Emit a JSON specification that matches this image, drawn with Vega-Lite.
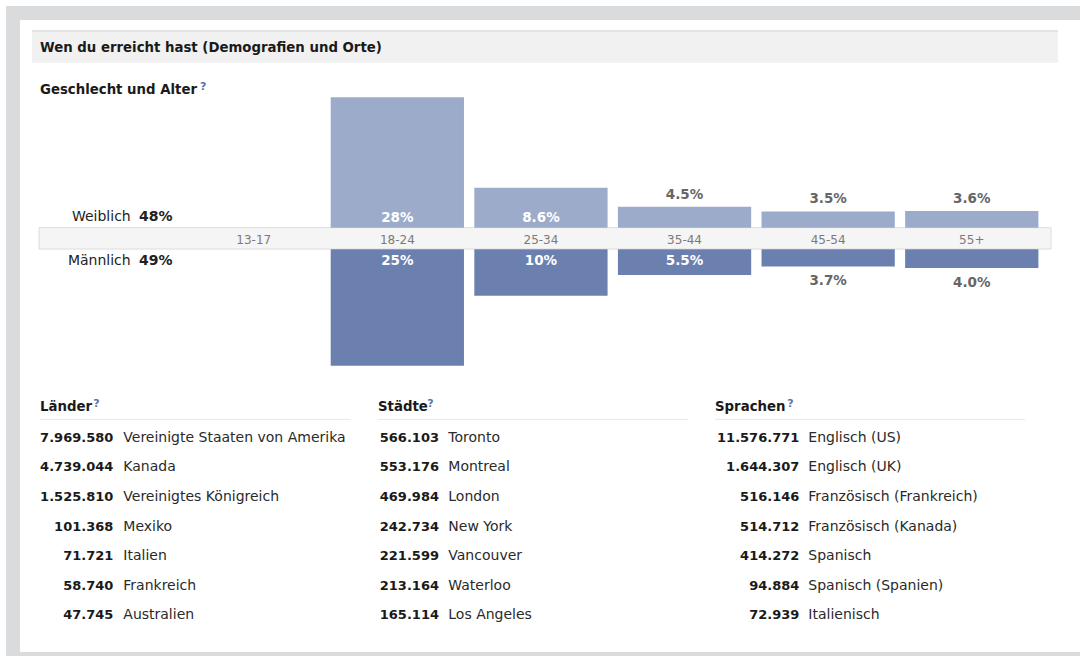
{
  "$schema": "https://vega.github.io/schema/vega-lite/v6.json",
  "width": 1067,
  "height": 643,
  "padding": {"left": 13, "top": 13, "right": 0, "bottom": 0},
  "autosize": {"type": "none"},
  "background": "#ffffff",
  "config": {
    "view": {"fill": "#ffffff", "stroke": null},
    "font": "DejaVu Sans",
    "text": {"font": "DejaVu Sans", "fontSize": 13, "color": "#222222"},
    "locale": {"number": {"decimal": ".", "thousands": ".", "grouping": [3], "currency": ["", ""]}}
  },
  "datasets": {
    "age": [
      {"age": "13-17"},
      {"age": "18-24", "female": 0.28, "male": 0.25},
      {"age": "25-34", "female": 0.086, "male": 0.10},
      {"age": "35-44", "female": 0.045, "male": 0.055},
      {"age": "45-54", "female": 0.035, "male": 0.037},
      {"age": "55+", "female": 0.036, "male": 0.040}
    ],
    "gender": [
      {"gender": "Weiblich", "share": 0.48},
      {"gender": "Männlich", "share": 0.49}
    ],
    "places": [
      {"list": "Länder", "rank": 1, "count": 7969580, "name": "Vereinigte Staaten von Amerika"},
      {"list": "Länder", "rank": 2, "count": 4739044, "name": "Kanada"},
      {"list": "Länder", "rank": 3, "count": 1525810, "name": "Vereinigtes Königreich"},
      {"list": "Länder", "rank": 4, "count": 101368, "name": "Mexiko"},
      {"list": "Länder", "rank": 5, "count": 71721, "name": "Italien"},
      {"list": "Länder", "rank": 6, "count": 58740, "name": "Frankreich"},
      {"list": "Länder", "rank": 7, "count": 47745, "name": "Australien"},
      {"list": "Städte", "rank": 1, "count": 566103, "name": "Toronto"},
      {"list": "Städte", "rank": 2, "count": 553176, "name": "Montreal"},
      {"list": "Städte", "rank": 3, "count": 469984, "name": "London"},
      {"list": "Städte", "rank": 4, "count": 242734, "name": "New York"},
      {"list": "Städte", "rank": 5, "count": 221599, "name": "Vancouver"},
      {"list": "Städte", "rank": 6, "count": 213164, "name": "Waterloo"},
      {"list": "Städte", "rank": 7, "count": 165114, "name": "Los Angeles"},
      {"list": "Sprachen", "rank": 1, "count": 11576771, "name": "Englisch (US)"},
      {"list": "Sprachen", "rank": 2, "count": 1644307, "name": "Englisch (UK)"},
      {"list": "Sprachen", "rank": 3, "count": 516146, "name": "Französisch (Frankreich)"},
      {"list": "Sprachen", "rank": 4, "count": 514712, "name": "Französisch (Kanada)"},
      {"list": "Sprachen", "rank": 5, "count": 414272, "name": "Spanisch"},
      {"list": "Sprachen", "rank": 6, "count": 94884, "name": "Spanisch (Spanien)"},
      {"list": "Sprachen", "rank": 7, "count": 72939, "name": "Italienisch"}
    ]
  },
  "resolve": {"scale": {"x": "independent", "y": "independent"}},
  "layer": [
    {
      "data": {"values": [{"frame": "border"}]},
      "layer": [
        {
          "mark": {"type": "rect", "color": "#dadbdd"},
          "encoding": {
            "x": {"datum": 0, "type": "quantitative", "scale": {"domain": [0, 1], "range": [-7, 1067], "nice": false, "zero": false}, "axis": null},
            "x2": {"datum": 1},
            "y": {"datum": 0, "type": "quantitative", "scale": {"domain": [0, 1], "range": [-7, 643], "nice": false, "zero": false}, "axis": null},
            "y2": {"datum": 0.0215}
          }
        },
        {
          "mark": {"type": "rect", "color": "#dadbdd"},
          "encoding": {
            "x": {"datum": 0, "type": "quantitative", "axis": null},
            "x2": {"datum": 0.013},
            "y": {"datum": 0, "type": "quantitative", "axis": null},
            "y2": {"datum": 1}
          }
        },
        {
          "mark": {"type": "rect", "color": "#dadbdd"},
          "encoding": {
            "x": {"datum": 0, "type": "quantitative", "axis": null},
            "x2": {"datum": 1},
            "y": {"datum": 0.9938, "type": "quantitative", "axis": null},
            "y2": {"datum": 1}
          }
        }
      ]
    },
    {
      "data": {"values": [{"title": "Wen du erreicht hast (Demografien und Orte)", "sub": "Geschlecht und Alter"}]},
      "layer": [
        {
          "mark": {"type": "rect", "color": "#f1f1f1"},
          "encoding": {
            "x": {"datum": 0, "type": "quantitative", "scale": {"domain": [0, 1], "range": [19, 1045], "nice": false, "zero": false}, "axis": null},
            "x2": {"datum": 1},
            "y": {"datum": 0, "type": "quantitative", "scale": {"domain": [0, 1], "range": [18, 49.7], "nice": false, "zero": false}, "axis": null},
            "y2": {"datum": 1}
          }
        },
        {
          "mark": {"type": "rule", "color": "#e4e4e4", "strokeWidth": 2},
          "encoding": {
            "x": {"datum": 0, "type": "quantitative", "axis": null},
            "x2": {"datum": 1},
            "y": {"datum": 0, "type": "quantitative", "axis": null}
          }
        },
        {
          "mark": {"type": "text", "align": "left", "baseline": "middle", "dx": 8, "dy": 1.5, "fontSize": 13.3, "fontWeight": "bold", "color": "#1a1a1a"},
          "encoding": {
            "x": {"datum": 0, "type": "quantitative", "axis": null},
            "y": {"datum": 0.5, "type": "quantitative", "axis": null},
            "text": {"field": "title"}
          }
        },
        {
          "mark": {"type": "text", "align": "left", "baseline": "alphabetic", "dx": 8, "fontSize": 13.3, "fontWeight": "bold", "color": "#1a1a1a"},
          "encoding": {
            "x": {"datum": 0, "type": "quantitative", "axis": null},
            "y": {"datum": 2, "type": "quantitative", "axis": null},
            "text": {"field": "sub"}
          }
        },
        {
          "mark": {"type": "text", "align": "left", "baseline": "alphabetic", "dx": 168, "dy": -4.4, "fontSize": 11, "fontWeight": "bold", "color": "#5b74a8"},
          "encoding": {
            "x": {"datum": 0, "type": "quantitative", "axis": null},
            "y": {"datum": 2, "type": "quantitative", "axis": null},
            "text": {"value": "?"}
          }
        }
      ]
    },
    {
      "data": {"values": [{"band": "age"}]},
      "mark": {"type": "rect", "color": "#f5f5f5", "stroke": "#dcdcdc", "strokeWidth": 1},
      "encoding": {
        "x": {"datum": 0, "type": "quantitative", "scale": {"domain": [0, 1], "range": [26, 1038], "nice": false, "zero": false}, "axis": null},
        "x2": {"datum": 1},
        "y": {"datum": 0, "type": "quantitative", "scale": {"domain": [0, 1], "range": [214.7, 236], "nice": false, "zero": false}, "axis": null},
        "y2": {"datum": 1}
      }
    },
    {
      "data": {"name": "age"},
      "mark": {"type": "text", "align": "center", "baseline": "middle", "dy": 1.2, "fontSize": 12, "color": "#7a7a7a"},
      "encoding": {
        "x": {"field": "age", "type": "nominal", "scale": {"type": "band", "domain": ["13-17", "18-24", "25-34", "35-44", "45-54", "55+"], "range": [174.1, 1025.4], "paddingInner": 0.072, "paddingOuter": 0}, "axis": null},
        "y": {"datum": 0.5, "type": "quantitative", "scale": {"domain": [0, 1], "range": [214.7, 236], "nice": false, "zero": false}, "axis": null},
        "text": {"field": "age"}
      }
    },
    {
      "data": {"name": "age"},
      "transform": [{"filter": "isValid(datum.female)"}],
      "encoding": {
        "x": {"field": "age", "type": "nominal", "scale": {"type": "band", "domain": ["13-17", "18-24", "25-34", "35-44", "45-54", "55+"], "range": [174.1, 1025.4], "paddingInner": 0.072, "paddingOuter": 0}, "axis": null}
      },
      "layer": [
        {
          "mark": {"type": "bar", "color": "#9dabcb"},
          "encoding": {
            "y": {"field": "female", "type": "quantitative", "scale": {"domain": [0, 0.28], "range": [214.7, 84.3], "nice": false, "zero": true}, "axis": null}
          }
        },
        {
          "transform": [{"filter": "datum.female >= 0.05"}],
          "mark": {"type": "text", "align": "center", "baseline": "alphabetic", "dy": -6, "fontSize": 13.5, "fontWeight": "bold", "color": "#ffffff"},
          "encoding": {
            "y": {"datum": 0, "type": "quantitative", "axis": null},
            "text": {"field": "female", "type": "quantitative", "format": ".2p"}
          }
        },
        {
          "transform": [{"filter": "datum.female < 0.05"}],
          "mark": {"type": "text", "align": "center", "baseline": "alphabetic", "dy": -8, "fontSize": 13.5, "fontWeight": "bold", "color": "#666666"},
          "encoding": {
            "y": {"field": "female", "type": "quantitative", "axis": null},
            "text": {"field": "female", "type": "quantitative", "format": ".2p"}
          }
        }
      ]
    },
    {
      "data": {"name": "age"},
      "transform": [{"filter": "isValid(datum.male)"}],
      "encoding": {
        "x": {"field": "age", "type": "nominal", "scale": {"type": "band", "domain": ["13-17", "18-24", "25-34", "35-44", "45-54", "55+"], "range": [174.1, 1025.4], "paddingInner": 0.072, "paddingOuter": 0}, "axis": null}
      },
      "layer": [
        {
          "mark": {"type": "bar", "color": "#6c80b0"},
          "encoding": {
            "y": {"field": "male", "type": "quantitative", "scale": {"domain": [0, 0.25], "range": [236.3, 352.7], "nice": false, "zero": true}, "axis": null}
          }
        },
        {
          "transform": [{"filter": "datum.male >= 0.05"}],
          "mark": {"type": "text", "align": "center", "baseline": "alphabetic", "dy": 15.7, "fontSize": 13.5, "fontWeight": "bold", "color": "#ffffff"},
          "encoding": {
            "y": {"datum": 0, "type": "quantitative", "axis": null},
            "text": {"field": "male", "type": "quantitative", "format": ".2p"}
          }
        },
        {
          "transform": [{"filter": "datum.male < 0.05"}],
          "mark": {"type": "text", "align": "center", "baseline": "alphabetic", "dy": 18.6, "fontSize": 13.5, "fontWeight": "bold", "color": "#666666"},
          "encoding": {
            "y": {"field": "male", "type": "quantitative", "axis": null},
            "text": {"field": "male", "type": "quantitative", "format": ".2p"}
          }
        }
      ]
    },
    {
      "data": {"name": "gender"},
      "encoding": {
        "y": {"field": "gender", "type": "nominal", "scale": {"type": "point", "domain": ["Weiblich", "Männlich"], "range": [208, 252], "padding": 0}, "axis": null}
      },
      "layer": [
        {
          "mark": {"type": "text", "align": "right", "baseline": "alphabetic", "fontSize": 14, "color": "#222222"},
          "encoding": {
            "x": {"datum": 0, "type": "quantitative", "scale": {"domain": [0, 1], "range": [117.7, 126], "nice": false, "zero": false}, "axis": null},
            "text": {"field": "gender"}
          }
        },
        {
          "mark": {"type": "text", "align": "left", "baseline": "alphabetic", "fontSize": 14, "fontWeight": "bold", "color": "#222222"},
          "encoding": {
            "x": {"datum": 1, "type": "quantitative", "axis": null},
            "text": {"field": "share", "type": "quantitative", "format": ".0%"}
          }
        }
      ]
    },
    {
      "layer": [
        {
          "data": {"values": [{"list": "Länder"}]},
          "mark": {"type": "rule", "color": "#e8e8e8", "strokeWidth": 1},
          "encoding": {
            "x": {"datum": 0, "type": "quantitative", "scale": {"domain": [0, 1], "range": [27, 337], "nice": false, "zero": false}, "axis": null},
            "x2": {"datum": 1},
            "y": {"datum": 0.245, "type": "quantitative", "scale": {"domain": [1, 7], "range": [428.7, 606.3], "nice": false, "zero": false}, "axis": null}
          }
        },
        {
          "data": {"values": [{"list": "Länder"}]},
          "mark": {"type": "text", "align": "left", "baseline": "alphabetic", "dy": -1.4, "fontSize": 13.3, "fontWeight": "bold", "color": "#1a1a1a"},
          "encoding": {
            "x": {"datum": 0, "type": "quantitative", "axis": null},
            "y": {"datum": 0, "type": "quantitative", "axis": null},
            "text": {"field": "list"}
          }
        },
        {
          "data": {"values": [{"list": "Länder"}]},
          "mark": {"type": "text", "align": "left", "baseline": "alphabetic", "dx": 53.3, "dy": -5.4, "fontSize": 11, "fontWeight": "bold", "color": "#5b74a8"},
          "encoding": {
            "x": {"datum": 0, "type": "quantitative", "axis": null},
            "y": {"datum": 0, "type": "quantitative", "axis": null},
            "text": {"value": "?"}
          }
        },
        {
          "data": {"name": "places"},
          "transform": [{"filter": "datum.list === 'Länder'"}],
          "mark": {"type": "text", "align": "right", "baseline": "alphabetic", "dx": 73.3, "fontSize": 13, "fontWeight": "bold", "color": "#1a1a1a"},
          "encoding": {
            "x": {"datum": 0, "type": "quantitative", "axis": null},
            "y": {"field": "rank", "type": "quantitative", "axis": null},
            "text": {"field": "count", "type": "quantitative", "format": ",d"}
          }
        },
        {
          "data": {"name": "places"},
          "transform": [{"filter": "datum.list === 'Länder'"}],
          "mark": {"type": "text", "align": "left", "baseline": "alphabetic", "dx": 83.3, "fontSize": 14, "color": "#2a2a2a"},
          "encoding": {
            "x": {"datum": 0, "type": "quantitative", "axis": null},
            "y": {"field": "rank", "type": "quantitative", "axis": null},
            "text": {"field": "name"}
          }
        }
      ]
    },
    {
      "layer": [
        {
          "data": {"values": [{"list": "Städte"}]},
          "mark": {"type": "rule", "color": "#e8e8e8", "strokeWidth": 1},
          "encoding": {
            "x": {"datum": 0, "type": "quantitative", "scale": {"domain": [0, 1], "range": [365, 675], "nice": false, "zero": false}, "axis": null},
            "x2": {"datum": 1},
            "y": {"datum": 0.245, "type": "quantitative", "scale": {"domain": [1, 7], "range": [428.7, 606.3], "nice": false, "zero": false}, "axis": null}
          }
        },
        {
          "data": {"values": [{"list": "Städte"}]},
          "mark": {"type": "text", "align": "left", "baseline": "alphabetic", "dy": -1.4, "fontSize": 13.3, "fontWeight": "bold", "color": "#1a1a1a"},
          "encoding": {
            "x": {"datum": 0, "type": "quantitative", "axis": null},
            "y": {"datum": 0, "type": "quantitative", "axis": null},
            "text": {"field": "list"}
          }
        },
        {
          "data": {"values": [{"list": "Städte"}]},
          "mark": {"type": "text", "align": "left", "baseline": "alphabetic", "dx": 49.3, "dy": -5.4, "fontSize": 11, "fontWeight": "bold", "color": "#5b74a8"},
          "encoding": {
            "x": {"datum": 0, "type": "quantitative", "axis": null},
            "y": {"datum": 0, "type": "quantitative", "axis": null},
            "text": {"value": "?"}
          }
        },
        {
          "data": {"name": "places"},
          "transform": [{"filter": "datum.list === 'Städte'"}],
          "mark": {"type": "text", "align": "right", "baseline": "alphabetic", "dx": 61, "fontSize": 13, "fontWeight": "bold", "color": "#1a1a1a"},
          "encoding": {
            "x": {"datum": 0, "type": "quantitative", "axis": null},
            "y": {"field": "rank", "type": "quantitative", "axis": null},
            "text": {"field": "count", "type": "quantitative", "format": ",d"}
          }
        },
        {
          "data": {"name": "places"},
          "transform": [{"filter": "datum.list === 'Städte'"}],
          "mark": {"type": "text", "align": "left", "baseline": "alphabetic", "dx": 70.3, "fontSize": 14, "color": "#2a2a2a"},
          "encoding": {
            "x": {"datum": 0, "type": "quantitative", "axis": null},
            "y": {"field": "rank", "type": "quantitative", "axis": null},
            "text": {"field": "name"}
          }
        }
      ]
    },
    {
      "layer": [
        {
          "data": {"values": [{"list": "Sprachen"}]},
          "mark": {"type": "rule", "color": "#e8e8e8", "strokeWidth": 1},
          "encoding": {
            "x": {"datum": 0, "type": "quantitative", "scale": {"domain": [0, 1], "range": [702, 1012], "nice": false, "zero": false}, "axis": null},
            "x2": {"datum": 1},
            "y": {"datum": 0.245, "type": "quantitative", "scale": {"domain": [1, 7], "range": [428.7, 606.3], "nice": false, "zero": false}, "axis": null}
          }
        },
        {
          "data": {"values": [{"list": "Sprachen"}]},
          "mark": {"type": "text", "align": "left", "baseline": "alphabetic", "dy": -1.4, "fontSize": 13.3, "fontWeight": "bold", "color": "#1a1a1a"},
          "encoding": {
            "x": {"datum": 0, "type": "quantitative", "axis": null},
            "y": {"datum": 0, "type": "quantitative", "axis": null},
            "text": {"field": "list"}
          }
        },
        {
          "data": {"values": [{"list": "Sprachen"}]},
          "mark": {"type": "text", "align": "left", "baseline": "alphabetic", "dx": 72.3, "dy": -5.4, "fontSize": 11, "fontWeight": "bold", "color": "#5b74a8"},
          "encoding": {
            "x": {"datum": 0, "type": "quantitative", "axis": null},
            "y": {"datum": 0, "type": "quantitative", "axis": null},
            "text": {"value": "?"}
          }
        },
        {
          "data": {"name": "places"},
          "transform": [{"filter": "datum.list === 'Sprachen'"}],
          "mark": {"type": "text", "align": "right", "baseline": "alphabetic", "dx": 84.3, "fontSize": 13, "fontWeight": "bold", "color": "#1a1a1a"},
          "encoding": {
            "x": {"datum": 0, "type": "quantitative", "axis": null},
            "y": {"field": "rank", "type": "quantitative", "axis": null},
            "text": {"field": "count", "type": "quantitative", "format": ",d"}
          }
        },
        {
          "data": {"name": "places"},
          "transform": [{"filter": "datum.list === 'Sprachen'"}],
          "mark": {"type": "text", "align": "left", "baseline": "alphabetic", "dx": 93.3, "fontSize": 14, "color": "#2a2a2a"},
          "encoding": {
            "x": {"datum": 0, "type": "quantitative", "axis": null},
            "y": {"field": "rank", "type": "quantitative", "axis": null},
            "text": {"field": "name"}
          }
        }
      ]
    }
  ]
}
